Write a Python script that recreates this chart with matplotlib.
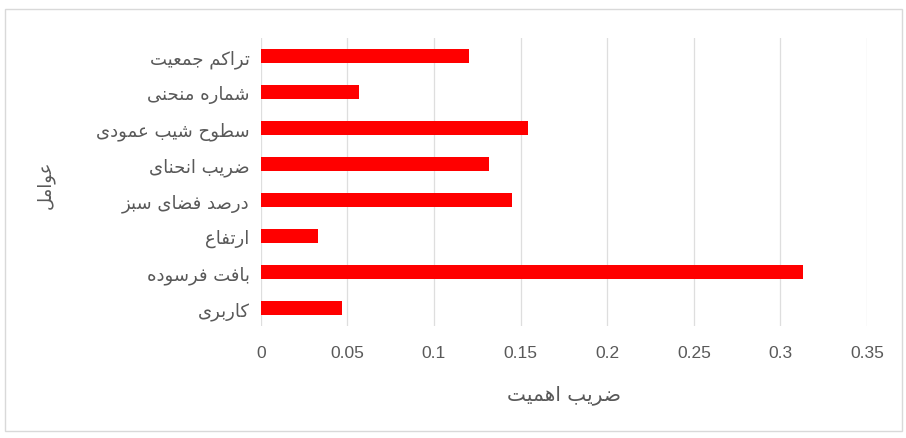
import matplotlib.pyplot as plt
from matplotlib.patches import Rectangle

# data (top to bottom as shown)
factors = ["تراکم جمعیت", "شماره منحنی", "سطوح شیب عمودی", "ضریب انحنای",
           "درصد فضای سبز", "ارتفاع", "بافت فرسوده", "کاربری"]
weights = [0.120, 0.057, 0.154, 0.132, 0.145, 0.033, 0.313, 0.047]
xticks = [0, 0.05, 0.1, 0.15, 0.2, 0.25, 0.3, 0.35]
xticklabels = ["0", "0.05", "0.1", "0.15", "0.2", "0.25", "0.3", "0.35"]
xlabel = "ضریب اهمیت"
ylabel = "عوامل"

# minimal arabic/persian shaping: isolated, final, initial, medial
forms = {
    "ا": ("\uFE8D", "\uFE8E", None, None),
    "ب": ("\uFE8F", "\uFE90", "\uFE91", "\uFE92"),
    "ت": ("\uFE95", "\uFE96", "\uFE97", "\uFE98"),
    "ج": ("\uFE9D", "\uFE9E", "\uFE9F", "\uFEA0"),
    "ح": ("\uFEA1", "\uFEA2", "\uFEA3", "\uFEA4"),
    "د": ("\uFEA9", "\uFEAA", None, None),
    "ر": ("\uFEAD", "\uFEAE", None, None),
    "ز": ("\uFEAF", "\uFEB0", None, None),
    "س": ("\uFEB1", "\uFEB2", "\uFEB3", "\uFEB4"),
    "ش": ("\uFEB5", "\uFEB6", "\uFEB7", "\uFEB8"),
    "ص": ("\uFEB9", "\uFEBA", "\uFEBB", "\uFEBC"),
    "ض": ("\uFEBD", "\uFEBE", "\uFEBF", "\uFEC0"),
    "ط": ("\uFEC1", "\uFEC2", "\uFEC3", "\uFEC4"),
    "ع": ("\uFEC9", "\uFECA", "\uFECB", "\uFECC"),
    "ف": ("\uFED1", "\uFED2", "\uFED3", "\uFED4"),
    "ق": ("\uFED5", "\uFED6", "\uFED7", "\uFED8"),
    "ل": ("\uFEDD", "\uFEDE", "\uFEDF", "\uFEE0"),
    "م": ("\uFEE1", "\uFEE2", "\uFEE3", "\uFEE4"),
    "ن": ("\uFEE5", "\uFEE6", "\uFEE7", "\uFEE8"),
    "ه": ("\uFEE9", "\uFEEA", "\uFEEB", "\uFEEC"),
    "و": ("\uFEED", "\uFEEE", None, None),
    "ی": ("\uFBFC", "\uFBFD", "\uFBFE", "\uFBFF"),
    "ک": ("\uFB8E", "\uFB8F", "\uFB90", "\uFB91"),
}


def shape(s):
    out = []
    for i, c in enumerate(s):
        if c not in forms:
            out.append(c)
            continue
        prev = s[i - 1] if i > 0 else " "
        nxt = s[i + 1] if i < len(s) - 1 else " "
        join_prev = prev in forms and forms[prev][2] is not None
        join_next = forms[c][2] is not None and nxt in forms
        iso, fin, ini, med = forms[c]
        if join_prev and join_next:
            out.append(med)
        elif join_prev:
            out.append(fin)
        elif join_next:
            out.append(ini)
        else:
            out.append(iso)
    return "".join(out)[::-1]


plt.rcParams["font.family"] = ["DejaVu Sans"]

fig = plt.figure(figsize=(9.06, 4.39), dpi=100)
ax = fig.add_axes([0.2878, 0.255, 0.6692, 0.656])

pos = list(range(len(factors)))[::-1]
ax.barh(pos, weights, height=0.4, color="#ff0000", zorder=3)
ax.set_xlim(0, 0.35)
ax.set_ylim(-0.5, len(factors) - 0.5)
ax.set_yticks(pos)
ax.set_yticklabels([shape(f) for f in factors], fontsize=13, color="#595959")
ax.set_xticks(xticks)
ax.set_xticklabels(xticklabels, fontsize=12.5, color="#595959", family="Liberation Sans")
ax.tick_params(axis="both", length=0)
ax.tick_params(axis="x", pad=14)
ax.tick_params(axis="y", pad=8)
ax.grid(axis="x", color="#dedede", linewidth=0.9, zorder=0)
for sp in ax.spines.values():
    sp.set_visible(False)

ax.set_xlabel(shape(xlabel), fontsize=14.5, color="#595959", labelpad=17)
fig.text(45 / 906, 1 - 185 / 439, shape(ylabel), rotation=90, fontsize=13,
         color="#595959", ha="center", va="center")

fig.patches.append(Rectangle((5 / 906, 7 / 439), 897 / 906, 422 / 439,
                             transform=fig.transFigure, fill=False,
                             edgecolor="#d9d9d9", linewidth=1))

fig.savefig("out.png", dpi=100)
